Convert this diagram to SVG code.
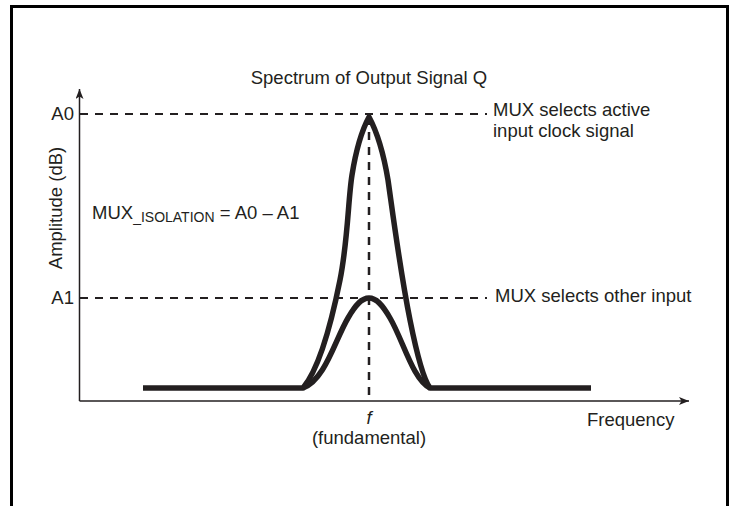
<svg xmlns="http://www.w3.org/2000/svg" width="735" height="506" viewBox="0 0 735 506">
<style>
text{font-family:"Liberation Sans",Arial,sans-serif;font-size:18.5px;fill:#231f20}
.axis{stroke:#231f20;stroke-width:1.5;fill:none}
.dash{stroke:#231f20;stroke-width:2;stroke-dasharray:8 7;fill:none}
.vdash{stroke:#231f20;stroke-width:2.5;stroke-dasharray:8 7;fill:none}
.curve{stroke:#231f20;stroke-width:5.5;fill:none;stroke-linejoin:round}
</style>
<defs>
<marker id="arr" viewBox="0 0 10 8" refX="10" refY="4" markerWidth="10" markerHeight="8" markerUnits="userSpaceOnUse" orient="auto">
<path d="M0,0 L10,4 L0,8 L2.5,4 Z" fill="#231f20"/>
</marker>
</defs>
<rect x="0" y="0" width="735" height="506" fill="#fff"/>
<path d="M11.5,520 V6.5 H727.5 V520" fill="none" stroke="#000" stroke-width="3"/>
<text x="369" y="84" text-anchor="middle">Spectrum of Output Signal Q</text>
<g id="connectors">
<path class="axis" d="M79.5,401 V89" marker-end="url(#arr)"/>
<path class="axis" d="M79.5,401 H689" marker-end="url(#arr)"/>
<path class="dash" d="M80,114 H487"/>
<path class="dash" d="M80,298 H487"/>
<path class="vdash" d="M369,117 V401"/>
</g>
<g id="curves">
<path class="curve" d="M143,388 H303 C318,370 330,330 340,280 C348,240 348,200 352,175 C356,150 362,130 369,117 C376,130 383,150 388,180 C393,215 400,270 410,320 C418,360 424,380 430,388 H591"/>
<path class="curve" d="M303,388 C325,380 335,340 348,318 C356,304 362,298 369,298 C376,298 382,304 390,318 C403,340 413,380 430,388"/>
</g>
<g id="labels">
<text x="74" y="120" text-anchor="end">A0</text>
<text x="74" y="304" text-anchor="end">A1</text>
<text transform="translate(62,208) rotate(-90)" text-anchor="middle">Amplitude (dB)</text>
<text x="92" y="219">MUX<tspan font-size="14" dy="3">_ISOLATION</tspan><tspan dy="-3"> = A0 – A1</tspan></text>
<text x="493" y="116">MUX selects active</text>
<text x="493" y="137">input clock signal</text>
<text x="495" y="302">MUX selects other input</text>
<text x="587" y="426">Frequency</text>
<text x="369" y="424" text-anchor="middle" font-style="italic" font-family="Liberation Serif, serif">f</text>
<text x="369" y="444" text-anchor="middle">(fundamental)</text>
</g>
</svg>
